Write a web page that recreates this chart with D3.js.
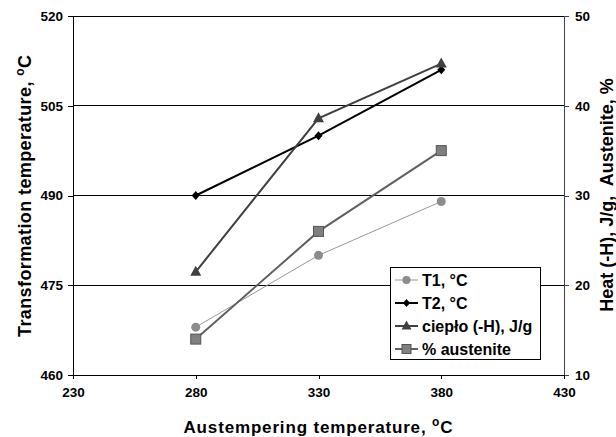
<!DOCTYPE html>
<html><head><meta charset="utf-8">
<script src="https://cdn.jsdelivr.net/npm/d3@7"></script>
<style>body{margin:0;background:#fff}svg text{font-family:"Liberation Sans",Arial,sans-serif;font-weight:700}</style>
</head><body><svg id="c" width="616" height="437"></svg>
<script>
const temps = [280, 330, 380];
const t1 = [468, 480, 489];
const t2 = [490, 500, 511];
const heat = [21.5, 38.6, 44.7];
const austenite = [14, 26, 35];
const xTicks = [230, 280, 330, 380, 430];
const yLeftTicks = [460, 475, 490, 505, 520];
const yRightTicks = [10, 20, 30, 40, 50];

const svg = d3.select("#c");
const L = 73, R = 564, T = 16, B = 375;
const x = d3.scaleLinear().domain([230, 430]).range([L, R]);
const yL = d3.scaleLinear().domain([460, 520]).range([B, T]);
const yR = d3.scaleLinear().domain([10, 50]).range([B, T]);

svg.append("g").selectAll("line").data(yLeftTicks).join("line")
  .attr("x1", L).attr("x2", R).attr("y1", d => yL(d)).attr("y2", d => yL(d))
  .attr("stroke", "#000").attr("stroke-width", 1).attr("shape-rendering", "crispEdges");

const axL = svg.append("g").attr("transform", `translate(${L},0)`)
  .call(d3.axisLeft(yL).tickValues(yLeftTicks).tickSize(5).tickSizeOuter(0).tickPadding(5));
const axR = svg.append("g").attr("transform", `translate(${R},0)`)
  .call(d3.axisRight(yR).tickValues(yRightTicks).tickSize(5).tickSizeOuter(0).tickPadding(6));
const axB = svg.append("g").attr("transform", `translate(0,${B})`)
  .call(d3.axisBottom(x).tickValues(xTicks).tickSize(4).tickSizeOuter(0).tickPadding(8));
[axL, axR, axB].forEach(a => {
  a.attr("font-family", null).attr("font-size", null);
  a.selectAll("text").style("font-size", "13.5px").style("font-weight", "700").attr("fill", "#000");
  a.selectAll("path,line").attr("stroke", "#000").attr("shape-rendering", "crispEdges");
});
axR.selectAll("path,line").attr("stroke", "#444");

const line = (ys, ysc) => d3.line().x((d, i) => x(temps[i])).y(d => ysc(d))(ys);

const series = [
  {name: "T1, °C", data: t1, sc: yL, stroke: "#999", sw: 1, marker: "circle", fill: "#8c8c8c"},
  {name: "T2, °C", data: t2, sc: yL, stroke: "#000", sw: 2, marker: "diamond", fill: "#000"},
  {name: "ciepło (-H), J/g", data: heat, sc: yR, stroke: "#404040", sw: 2, marker: "triangle", fill: "#404040"},
  {name: "% austenite", data: austenite, sc: yR, stroke: "#606060", sw: 2, marker: "square", fill: "#808080"}
];

function drawMarker(g, type, cx, cy, fill, scale) {
  scale = scale || 1;
  if (type === "circle") g.append("circle").attr("cx", cx).attr("cy", cy).attr("r", 4.5 * scale).attr("fill", fill);
  else if (type === "diamond") g.append("path").attr("d", `M${cx},${cy-4.5*scale}L${cx+4*scale},${cy}L${cx},${cy+4.5*scale}L${cx-4*scale},${cy}Z`).attr("fill", fill);
  else if (type === "triangle") g.append("path").attr("d", `M${cx},${cy-6*scale}L${cx+5.5*scale},${cy+4*scale}L${cx-5.5*scale},${cy+4*scale}Z`).attr("fill", fill);
  else if (type === "square") g.append("rect").attr("x", cx - 5*scale).attr("y", cy - 5*scale).attr("width", 10*scale).attr("height", 10*scale)
     .attr("fill", fill).attr("stroke", "#555").attr("stroke-width", 1);
}

series.forEach(s => {
  svg.append("path").attr("d", line(s.data, s.sc)).attr("fill", "none").attr("stroke", s.stroke).attr("stroke-width", s.sw);
  const g = svg.append("g");
  s.data.forEach((d, i) => drawMarker(g, s.marker, x(temps[i]), s.sc(d), s.fill));
});

const lg = svg.append("g");
lg.append("rect").attr("x", 390.5).attr("y", 267.5).attr("width", 150).attr("height", 92)
  .attr("fill", "#fff").attr("stroke", "#000").attr("stroke-width", 1);
series.forEach((s, i) => {
  const yy = 280 + i * 23;
  lg.append("line").attr("x1", 395).attr("x2", 418).attr("y1", yy).attr("y2", yy).attr("stroke", s.stroke).attr("stroke-width", s.sw);
  drawMarker(lg, s.marker, 406.5, yy, s.fill, 0.9);
  lg.append("text").attr("x", 422).attr("y", yy + 6).style("font-size", "16px").attr("fill", "#000").text(s.name);
});

const tb = svg.append("text").attr("x", 318).attr("y", 433).attr("text-anchor", "middle").style("font-size", "17px")
  .attr("textLength", 269).attr("lengthAdjust", "spacing");
tb.append("tspan").text("Austempering temperature, ");
tb.append("tspan").style("font-size", "12px").attr("dy", -7).text("o");
tb.append("tspan").attr("dy", 7).text("C");

const tl = svg.append("text").attr("transform", "translate(31,196) rotate(-90)").attr("text-anchor", "middle").style("font-size", "18px")
  .attr("textLength", 282).attr("lengthAdjust", "spacing");
tl.append("tspan").text("Transformation temperature, ");
tl.append("tspan").style("font-size", "12px").attr("dy", -7).text("o");
tl.append("tspan").attr("dy", 7).text("C");

svg.append("text").attr("transform", "translate(613,195) rotate(-90)").attr("text-anchor", "middle").style("font-size", "18px")
  .style("white-space", "pre").text("Heat (-H), J/g,  Austenite, %");
</script></body></html>
